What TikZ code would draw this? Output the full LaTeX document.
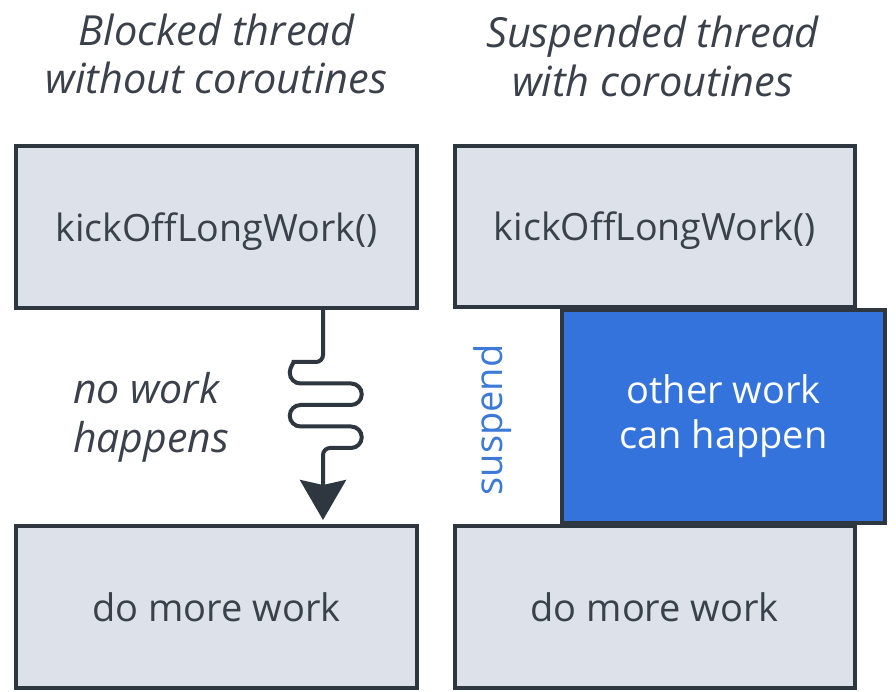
\documentclass[tikz,border=0pt]{standalone}
\usepackage{fontspec}
\setmainfont{Open Sans}
\usetikzlibrary{arrows.meta}
\definecolor{edge}{HTML}{2E3740}
\definecolor{boxfill}{HTML}{DCE1EA}
\definecolor{bluefill}{HTML}{3573DC}
\definecolor{bluetext}{HTML}{3D7AD8}
\definecolor{txt}{HTML}{3A414B}
\begin{document}
\begin{tikzpicture}[x=1pt,y=1pt,
  graybox/.style={draw=edge, line width=4pt, fill=boxfill, inner sep=0pt,
    minimum width=401pt, minimum height=162pt, text=txt,
    text height=29pt, text depth=0pt,
    font=\fontsize{38}{46}\selectfont},
  bluebox/.style={draw=edge, line width=4pt, fill=bluefill, inner sep=0pt,
    minimum width=323pt, minimum height=213pt, text=white, align=center,
    font=\fontsize{38}{45}\selectfont},
  title/.style={text=txt, align=center, inner sep=0pt,
    font=\fontsize{41.5}{48}\selectfont\itshape},
  wire/.style={draw=edge, line width=4pt,
    -{Stealth[length=40pt, width=46pt, inset=5pt]}}]
\useasboundingbox (0,0) rectangle (896,692);
\fill[white] (0,0) rectangle (896,692);
% titles
\node[title, font=\fontsize{41.5}{47.5}\selectfont\itshape] (t1) at (216.5,637.8) {Blocked thread\\without coroutines};
\node[title, font=\fontsize{41.5}{49}\selectfont\itshape] (t2) at (652.5,635.2) {Suspended thread\\with coroutines};
% left column
\node[graybox, font=\fontsize{37.6}{46}\selectfont] (k1) at (216.5,465) {kickOffLongWork()};
\node[graybox] (d1) at (216.5,85) {do more work};
% right column
\node[bluebox] (ow) at (723.5,275.5) {other work\\can happen};
\node[graybox, minimum width=400.5pt, minimum height=161pt, font=\fontsize{37.6}{46}\selectfont] (k2) at (654.75,465.5) {kickOffLongWork()};
\node[graybox, minimum width=400.5pt] (d2) at (654.75,85) {do more work};
% labels
\node[text=txt, align=left, anchor=west, inner sep=0pt,
  font=\fontsize{41}{49}\selectfont\itshape] (nw) at (73,275) {no work\\happens};
\node[text=bluetext, rotate=90, font=\fontsize{38}{46}\selectfont] (sp) at (493,272) {suspend};
% wavy blocked arrow
\coordinate (wx) at (323,0);
\path[wire] (k1.south -| wx)
  {[rounded corners=7pt] -- (323,330) -- (300.5,330)}
  arc[start angle=90, end angle=270, radius=10.75pt]
  -- (351,308.5) arc[start angle=90, end angle=-90, radius=10.75pt]
  -- (300.5,287) arc[start angle=90, end angle=270, radius=10.75pt]
  -- (351,265.5) arc[start angle=90, end angle=-90, radius=10.75pt]
  {[rounded corners=7pt] -- (323,244) -- ([yshift=4pt]d1.north -| wx)};
\end{tikzpicture}
\end{document}
